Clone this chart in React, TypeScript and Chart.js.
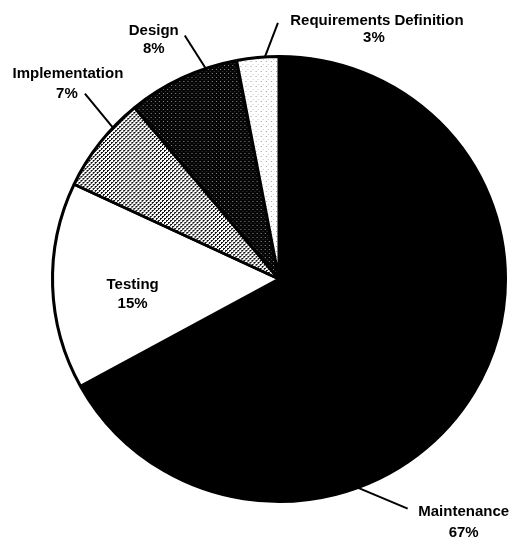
import React, { useEffect, useRef } from "react";
import { Chart, registerables } from "chart.js";

Chart.register(...registerables);

const categories = ["Maintenance", "Testing", "Implementation", "Design", "Requirements Definition"];
const shares = [67, 15, 7, 8, 3];
const shareLabels = ["67%", "15%", "7%", "8%", "3%"];

const STRETCH_X = 1.018;

function makePattern(ctx: CanvasRenderingContext2D, size: number, bg: string, dots: [number, number, string][]) {
  const t = document.createElement("canvas");
  t.width = size;
  t.height = size;
  const c = t.getContext("2d")!;
  c.fillStyle = bg;
  c.fillRect(0, 0, size, size);
  for (const [x, y, col] of dots) {
    c.fillStyle = col;
    c.fillRect(x, y, 1, 1);
  }
  return ctx.createPattern(t, "repeat")!;
}

// label layout: frac = where along the arc the leader starts; line = leader end offset from anchor
const labelLayout: any[] = [
  { frac: 0.662, line: [50, 21], text: [56, 3], text2: [56, 24] },
  { inside: true, frac: 0.42, r: 0.65, gap: 19 },
  { frac: 0.7, line: [-28, -34], text: [-17, -20], text2: [-18, 0] },
  { frac: 0.72, line: [-21, -33], text: [-31, -5], text2: [-31, 13] },
  { frac: 0.67, line: [13, -34], text: [99, -2], text2: [96, 15] },
];

export default function App() {
  const ref = useRef<HTMLCanvasElement>(null);
  useEffect(() => {
    const canvas = ref.current!;
    const ctx = canvas.getContext("2d")!;
    const fills = [
      "#000000",
      "#ffffff",
      makePattern(ctx, 4, "#ffffff", [
        [0, 0, "#111"], [1, 0, "#111"], [0, 1, "#111"],
        [2, 2, "#111"], [3, 2, "#111"], [2, 3, "#111"],
      ]),
      makePattern(ctx, 4, "#050505", [[1, 1, "#8a8a8a"], [3, 3, "#3a3a3a"]]),
      makePattern(ctx, 5, "#ffffff", [[1, 1, "#999999"], [3, 4, "#cccccc"]]),
    ];

    const stretchPlugin = {
      id: "stretch",
      beforeDatasetsDraw(chart: any) {
        const a = chart.getDatasetMeta(0).data[0];
        const c = chart.ctx;
        c.save();
        c.translate(a.x, a.y);
        c.scale(STRETCH_X, 1);
        c.translate(-a.x, -a.y);
      },
      afterDatasetsDraw(chart: any) {
        chart.ctx.restore();
      },
    };

    const labelPlugin = {
      id: "pieLabels",
      afterDraw(chart: any) {
        const meta = chart.getDatasetMeta(0);
        const c = chart.ctx;
        c.save();
        c.font = "bold 15px 'Liberation Sans', Arial, sans-serif";
        c.fillStyle = "#000";
        c.strokeStyle = "#000";
        c.lineWidth = 2;
        c.textAlign = "center";
        c.textBaseline = "middle";
        meta.data.forEach((arc: any, i: number) => {
          const L = labelLayout[i];
          const { x, y, startAngle, endAngle, outerRadius } = arc.getProps(
            ["x", "y", "startAngle", "endAngle", "outerRadius"],
            true
          );
          const a = startAngle + L.frac * (endAngle - startAngle);
          if (L.inside) {
            const px = x + Math.cos(a) * outerRadius * L.r * STRETCH_X;
            const py = y + Math.sin(a) * outerRadius * L.r;
            c.fillText(categories[i], px, py - L.gap / 2);
            c.fillText(shareLabels[i], px, py + L.gap / 2);
            return;
          }
          const ax = x + Math.cos(a) * outerRadius * STRETCH_X;
          const ay = y + Math.sin(a) * outerRadius;
          const ex = ax + L.line[0];
          const ey = ay + L.line[1];
          c.beginPath();
          c.moveTo(ax, ay);
          c.lineTo(ex, ey);
          c.stroke();
          c.fillText(categories[i], ex + L.text[0], ey + L.text[1]);
          c.fillText(shareLabels[i], ex + L.text2[0], ey + L.text2[1]);
        });
        c.restore();
      },
    };

    const chart = new Chart(canvas, {
      type: "pie",
      data: {
        labels: categories,
        datasets: [
          {
            data: shares,
            backgroundColor: fills as any,
            borderColor: "#000",
            borderWidth: 3,
          },
        ],
      },
      options: {
        responsive: false,
        maintainAspectRatio: false,
        animation: false,
        layout: { padding: { left: 55, right: 14, top: 55, bottom: 36 } },
        plugins: { legend: { display: false }, tooltip: { enabled: false } },
      },
      plugins: [stretchPlugin, labelPlugin],
    });
    return () => chart.destroy();
  }, []);
  return (
    <div style={{ position: "absolute", left: 0, top: 0, width: 517, height: 539, background: "#fff" }}>
      <canvas ref={ref} width={517} height={539} />
    </div>
  );
}
